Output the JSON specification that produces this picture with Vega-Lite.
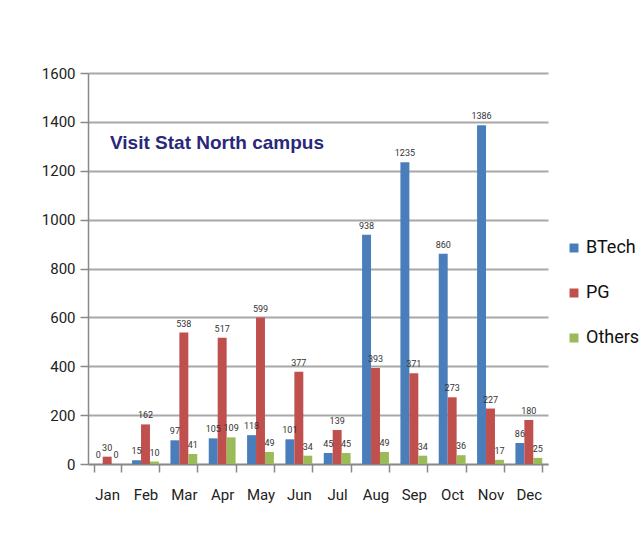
{
  "$schema": "https://vega.github.io/schema/vega-lite/v6.json",
  "autosize": "none",
  "width": 460,
  "height": 391,
  "padding": {"left": 88, "top": 73, "right": 94, "bottom": 75},
  "background": "white",
  "view": {"stroke": null},
  "title": {
    "text": "Visit  Stat North campus",
    "anchor": "start",
    "frame": "group",
    "font": "Liberation Sans",
    "fontSize": 19,
    "fontWeight": "bold",
    "color": "#29287a",
    "dx": 22,
    "dy": 91
  },
  "data": {
    "values": [
      {"month": "Jan", "series": "BTech", "value": 0},
      {"month": "Jan", "series": "PG", "value": 30},
      {"month": "Jan", "series": "Others", "value": 0},
      {"month": "Feb", "series": "BTech", "value": 15},
      {"month": "Feb", "series": "PG", "value": 162},
      {"month": "Feb", "series": "Others", "value": 10},
      {"month": "Mar", "series": "BTech", "value": 97},
      {"month": "Mar", "series": "PG", "value": 538},
      {"month": "Mar", "series": "Others", "value": 41},
      {"month": "Apr", "series": "BTech", "value": 105},
      {"month": "Apr", "series": "PG", "value": 517},
      {"month": "Apr", "series": "Others", "value": 109},
      {"month": "May", "series": "BTech", "value": 118},
      {"month": "May", "series": "PG", "value": 599},
      {"month": "May", "series": "Others", "value": 49},
      {"month": "Jun", "series": "BTech", "value": 101},
      {"month": "Jun", "series": "PG", "value": 377},
      {"month": "Jun", "series": "Others", "value": 34},
      {"month": "Jul", "series": "BTech", "value": 45},
      {"month": "Jul", "series": "PG", "value": 139},
      {"month": "Jul", "series": "Others", "value": 45},
      {"month": "Aug", "series": "BTech", "value": 938},
      {"month": "Aug", "series": "PG", "value": 393},
      {"month": "Aug", "series": "Others", "value": 49},
      {"month": "Sep", "series": "BTech", "value": 1235},
      {"month": "Sep", "series": "PG", "value": 371},
      {"month": "Sep", "series": "Others", "value": 34},
      {"month": "Oct", "series": "BTech", "value": 860},
      {"month": "Oct", "series": "PG", "value": 273},
      {"month": "Oct", "series": "Others", "value": 36},
      {"month": "Nov", "series": "BTech", "value": 1386},
      {"month": "Nov", "series": "PG", "value": 227},
      {"month": "Nov", "series": "Others", "value": 17},
      {"month": "Dec", "series": "BTech", "value": 86},
      {"month": "Dec", "series": "PG", "value": 180},
      {"month": "Dec", "series": "Others", "value": 25}
    ]
  },
  "encoding": {
    "x": {
      "field": "month",
      "type": "nominal",
      "sort": null,
      "scale": {"paddingInner": 0.3, "paddingOuter": 0.15},
      "axis": {
        "title": null,
        "labelAngle": 0,
        "labelFont": "Roboto",
        "labelFontSize": 15,
        "labelColor": "#222",
        "labelPadding": 15,
        "tickSize": 8,
        "tickBand": "extent",
        "tickColor": "#888",
        "tickWidth": 1.5,
        "domainColor": "#888",
        "domainWidth": 1.5
      }
    },
    "xOffset": {
      "field": "series",
      "type": "nominal",
      "sort": ["BTech", "PG", "Others"],
      "scale": {"paddingInner": 0, "paddingOuter": 0}
    },
    "y": {
      "field": "value",
      "type": "quantitative",
      "scale": {"domain": [0, 1600]},
      "axis": {
        "title": null,
        "format": "d",
        "values": [0, 200, 400, 600, 800, 1000, 1200, 1400, 1600],
        "labelFont": "Roboto",
        "labelFontSize": 15,
        "labelColor": "#222",
        "labelPadding": 5,
        "tickSize": 8,
        "tickColor": "#888",
        "tickWidth": 1.5,
        "domainColor": "#888",
        "domainWidth": 1.5,
        "gridColor": "#a8a8a8",
        "gridWidth": 2
      }
    },
    "color": {
      "field": "series",
      "type": "nominal",
      "sort": ["BTech", "PG", "Others"],
      "scale": {"domain": ["BTech", "PG", "Others"], "range": ["#4a7ebb", "#c0504d", "#9bbb59"]},
      "legend": {
        "title": null,
        "orient": "none",
        "legendX": 477,
        "legendY": 166,
        "symbolType": "square",
        "symbolSize": 81,
        "symbolStrokeWidth": 0,
        "labelFont": "Roboto",
        "labelFontSize": 18,
        "labelColor": "#111",
        "labelOffset": 3,
        "rowPadding": 27
      }
    }
  },
  "layer": [
    {"mark": {"type": "bar"}},
    {
      "mark": {
        "type": "text",
        "baseline": "bottom",
        "dy": -4,
        "font": "Roboto",
        "fontSize": 9,
        "color": "#333"
      },
      "encoding": {
        "text": {"field": "value", "type": "quantitative"},
        "color": {"value": "#333"}
      }
    }
  ]
}
